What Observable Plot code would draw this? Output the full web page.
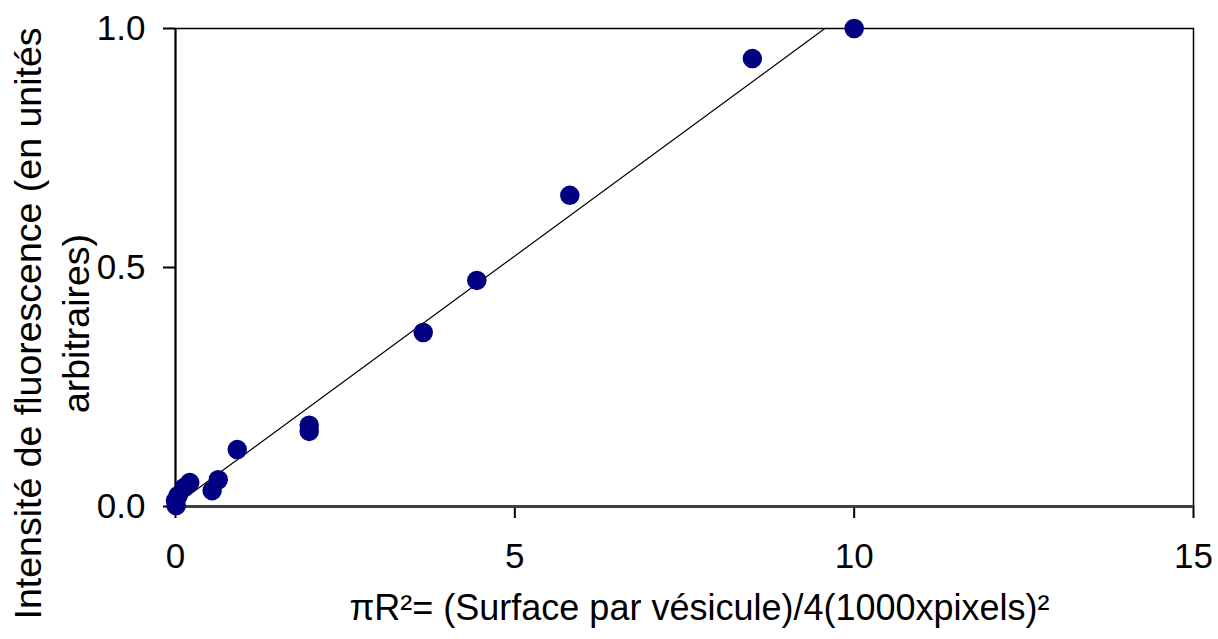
<!DOCTYPE html>
<html><head><meta charset="utf-8">
<script src="https://cdn.jsdelivr.net/npm/d3@7"></script>
<script src="https://cdn.jsdelivr.net/npm/@observablehq/plot@0.6"></script>
<style>body{margin:0;background:#fff;} svg{font-family:Arial,"Liberation Sans",sans-serif;}</style>
</head><body><div id="chart"></div>
<script>
const surface = [0.00, 0.01, 0.04, 0.13, 0.21, 0.54, 0.63, 0.91, 1.97, 1.97, 3.65, 4.44, 5.81, 8.50, 10.0];
const intensite = [0.012, 0.002, 0.023, 0.040, 0.050, 0.033, 0.056, 0.119, 0.170, 0.157, 0.364, 0.473, 0.651, 0.937, 1.0];
const trendX = [0, 10];
const slope = 0.1042;
const intercept = 0.003;
const xTicks = [0, 5, 10, 15];
const yTicks = [0, 0.5, 1.0];
const xTitle = "πR²= (Surface par vésicule)/4(1000xpixels)²";
const yTitle1 = "Intensité de fluorescence (en unités";
const yTitle2 = "arbitraires)";

const pts = surface.map((x, i) => ({x, y: intensite[i]}));
const trend = trendX.map(x => ({x, y: slope * x + intercept}));
const FS = 35;

const chart = Plot.plot({
  width: 1218, height: 639,
  marginLeft: 175, marginRight: 25, marginTop: 28, marginBottom: 133,
  style: {fontSize: FS + "px", fontFamily: "Arial, 'Liberation Sans', sans-serif", color: "#000", overflow: "visible"},
  x: {domain: [0, 15], ticks: xTicks},
  y: {domain: [0, 1], ticks: yTicks, tickFormat: d3.format(".1f")},
  marks: [
    Plot.frame({stroke: "#000", strokeWidth: 1.5}),
    Plot.axisX({ticks: xTicks, tickSize: 12, tickPadding: 25, stroke: "#000", strokeWidth: 2, label: null, fontSize: FS}),
    Plot.axisY({ticks: yTicks, tickSize: 12, tickPadding: 18, stroke: "#000", strokeWidth: 2, tickFormat: d3.format(".1f"), label: null, fontSize: FS}),
    Plot.ruleX([0], {stroke: "#000", strokeWidth: 2}),
    Plot.ruleY([0], {stroke: "#404040", strokeWidth: 3}),
    Plot.line(trend, {x: "x", y: "y", stroke: "#000", strokeWidth: 1.2, clip: true}),
    Plot.dot(pts, {x: "x", y: "y", r: 9, fill: "#000080", stroke: "#000080"}),
    Plot.text([xTitle], {frameAnchor: "bottom", dx: 15, dy: 102, lineAnchor: "middle", fontSize: 36, fill: "#000"}),
    Plot.text([yTitle1], {frameAnchor: "left", dx: -147, dy: 56, rotate: -90, textAnchor: "middle", lineAnchor: "middle", fontSize: 37.5, fill: "#000"}),
    Plot.text([yTitle2], {frameAnchor: "left", dx: -99, dy: 56, rotate: -90, textAnchor: "middle", lineAnchor: "middle", fontSize: 37.5, fill: "#000"})
  ]
});
document.getElementById("chart").appendChild(chart);
</script>
</body></html>
